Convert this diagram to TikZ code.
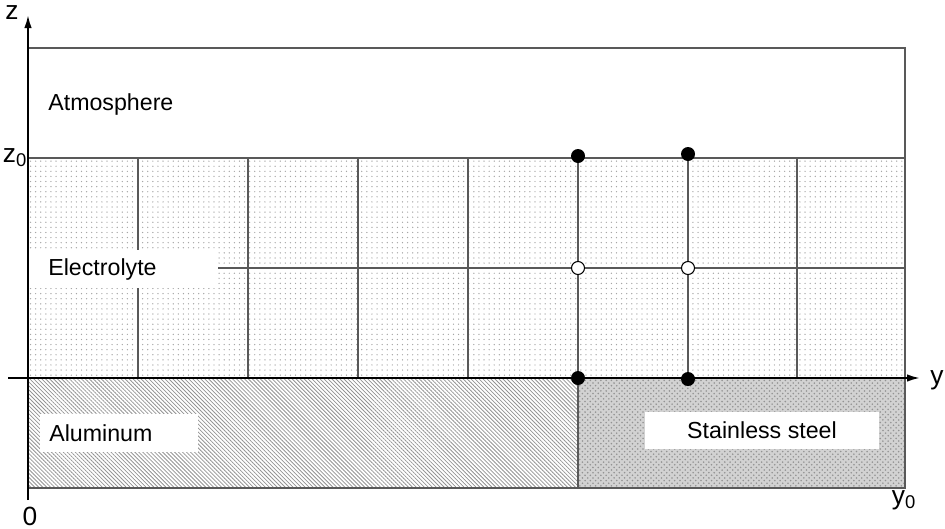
\documentclass[tikz,border=0pt]{standalone}
\usepackage{fontspec}
\setmainfont{Liberation Sans}
\usepackage{tikz}
\usetikzlibrary{arrows.meta}
\usetikzlibrary{patterns,patterns.meta}
\usetikzlibrary{calc,positioning}

\tikzset{
  grid line/.style={draw=black!65, line width=0.6pt},
  axis line/.style={draw=black, line width=1.1pt, -{Latex[length=2.6mm, width=1.5mm]}},
  full dot/.style={circle, fill=black, inner sep=0pt, minimum size=0.28cm},
  open dot/.style={circle, draw=black, line width=0.6pt, fill=white, inner sep=0pt, minimum size=0.26cm},
  label box/.style={fill=white, minimum height=0.76cm, inner ysep=0pt},
  lbl/.style={inner sep=0pt},
  axis lbl/.style={inner sep=0pt, font=\fontsize{15}{17}\selectfont}
}

\begin{document}
\begin{tikzpicture}[x=0.02cm, y=-0.02cm, font=\fontsize{13.2}{15}\selectfont]
  \useasboundingbox (0,0) rectangle (945,528);

  % regions
  \fill[pattern={Dots[distance=2.9pt, radius=0.4pt]}, pattern color=gray!70] (28,158) rectangle (905,378);
  \fill[pattern={Lines[angle=-45, distance=1.6pt, line width=0.45pt]}, pattern color=gray!85] (28,378) rectangle (578,488);
  \fill[gray!35] (578,378) rectangle (905,488);
  \fill[pattern=crosshatch dots, pattern color=gray!85] (578,378) rectangle (905,488);

  % borders and grid
  \draw[grid line] (28,48) rectangle (905,488);
  \draw[grid line] (28,158) -- (905,158);
  \draw[grid line] (28,268) -- (905,268);
  \foreach \gx in {138,248,358,468,578,688,797}
    \draw[grid line] (\gx,158) -- (\gx,378);
  \draw[grid line] (578,378) -- (578,488);

  % labels
  \node (atm) [lbl, anchor=west] at (48,104) {Atmosphere};
  \node (elec) [label box, anchor=west, text width=3cm, inner xsep=0.4cm, align=left] at (28,269) {Electrolyte};
  \node (alu) [label box, anchor=west, text width=2.8cm, inner xsep=0.18cm, align=left] at (40,433) {Aluminum};
  \node (steel) [label box, minimum width=4.7cm, minimum height=0.74cm] at (762,430) {Stainless steel};

  % axes
  \coordinate (origin) at (28,378);
  \coordinate (zstart) at (28,500);
  \coordinate (ztip) at (28,15);
  \coordinate (ystart) at (8,378);
  \coordinate (ytip) at (920,378);
  \draw[axis line] (zstart) -- (ztip);
  \draw[axis line] (ystart) -- (ytip);

  \node (zlbl) [axis lbl] at (12,13) {z};
  \node (zzero) [axis lbl] at (15,158) {z\textsubscript{0}};
  \node (ylbl) [axis lbl] at (937,380) {y};
  \node (orig) [axis lbl] at (30,516) {0};
  \node (yzero) [axis lbl] at (904,500) {y\textsubscript{0}};

  % points
  \node (top1) [full dot] at (578,156) {};
  \node (top2) [full dot] at (688,154) {};
  \node (mid1) [open dot] at (578,268) {};
  \node (mid2) [open dot] at (688,268) {};
  \node (bot1) [full dot] at (578,378) {};
  \node (bot2) [full dot] at (688,379) {};
\end{tikzpicture}
\end{document}
